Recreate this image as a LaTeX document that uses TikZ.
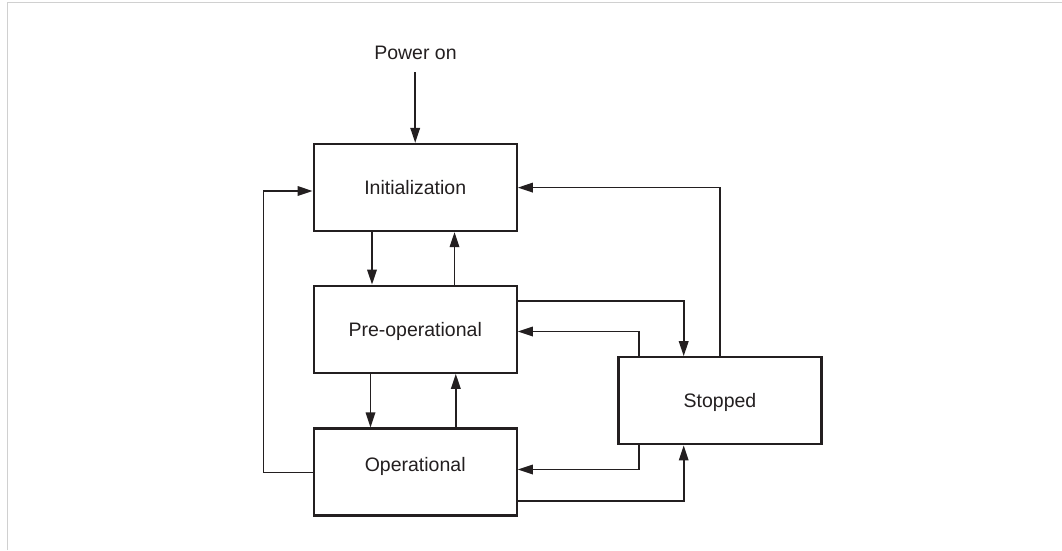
\documentclass[tikz,border=0pt]{standalone}
\usepackage{fontspec}
\setmainfont{Liberation Sans}
\usetikzlibrary{arrows.meta}
\definecolor{ink}{HTML}{231F20}
\definecolor{frame}{HTML}{D0D0D0}
\tikzset{
  statebox/.style={draw=ink, line width=2.2pt, minimum width=203pt, minimum height=87pt, inner sep=0pt},
  lbl/.style={text=ink, font=\fontsize{19.5}{22}\selectfont, inner sep=0pt, text height=14pt, text depth=0pt},
  conn/.style={draw=ink, line width=1.7pt, -{Triangle[length=15pt,width=9.5pt]}},
}
\begin{document}
\begin{tikzpicture}[x=1pt,y=-1pt]
\useasboundingbox (0,0) rectangle (1062,550);
\fill[white] (0,0) rectangle (1062,550);
\draw[frame, line width=1.8pt] (7.5,550) -- (7.5,2.5) -- (1062,2.5);

\node[statebox] (init) at (415.2,187.5) {};
\node[statebox] (preop) at (415.2,329.2) {};
\node[statebox] (op) at (415.2,472) {};
\node[statebox] (stop) at (720,400.8) {};

\node[lbl] (initt) at (415.2,187) {Initialization};
\node[lbl] (preopt) at (415.2,329) {Pre-operational};
\node[lbl] (opt) at (415.2,464.8) {Operational};
\node[lbl] (stopt) at (720,400) {Stopped};
\node[lbl] (power) at (415.5,52) {Power on};

\coordinate (pw) at (415.2,72);
\draw[conn] (pw) -- (init.north);

% Init <-> Preop
\draw[conn] (init.south -| 372,0) -- (preop.north -| 372,0);
\draw[conn] (preop.north -| 454.5,0) -- (init.south -| 454.5,0);
% Preop <-> Op
\draw[conn] (preop.south -| 370.5,0) -- (op.north -| 370.5,0);
\draw[conn] (op.north -| 455.8,0) -- (preop.south -| 455.8,0);

% Op -> Init (left loop)
\coordinate (l1) at (263.5,472.5);
\coordinate (l2) at (263.5,191);
\draw[conn] (op.west |- l1) -- (l1) -- (l2) -- (init.west |- l2);

% Stopped -> Init
\coordinate (s1) at (720,187.6);
\draw[conn] (stop.north) -- (s1) -- (init.east |- s1);

% Preop -> Stopped
\coordinate (p1) at (683.7,300.7);
\draw[conn] (preop.east |- p1) -- (p1) -- (stop.north -| p1);

% Stopped -> Preop
\coordinate (p2) at (638.8,331.5);
\draw[conn] (stop.north -| p2) -- (p2) -- (preop.east |- p2);

% Stopped -> Op
\coordinate (o1) at (638.8,469.5);
\draw[conn] (stop.south -| o1) -- (o1) -- (op.east |- o1);

% Op -> Stopped
\coordinate (o2) at (683.7,500.8);
\draw[conn] (op.east |- o2) -- (o2) -- (stop.south -| o2);
\end{tikzpicture}
\end{document}
